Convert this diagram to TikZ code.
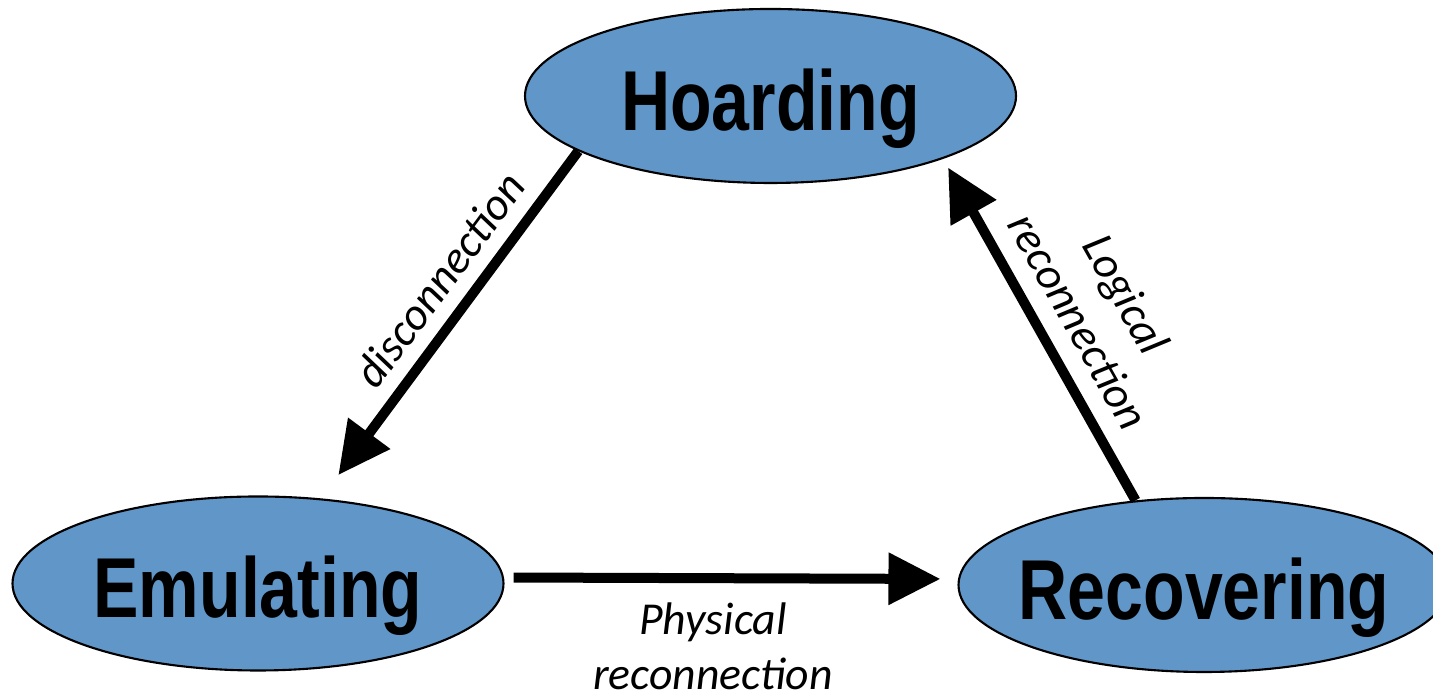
\documentclass[tikz,border=0pt]{standalone}
\usepackage{fontspec}
\usepackage{tikz}
\usetikzlibrary{arrows.meta, shapes.geometric, positioning}
\newfontfamily\statefont{Liberation Sans}[FakeStretch=0.8]
\newfontfamily\edgefont{Carlito}
\definecolor{stateblue}{RGB}{96,150,200}

\begin{document}
\begin{tikzpicture}[
  state/.style={ellipse, draw=black, line width=0.6pt, fill=stateblue,
    minimum width=4.91cm, minimum height=1.74cm, inner xsep=-0.15cm, inner ysep=0pt,
    text height=20.6pt, text depth=1pt,
    font=\statefont\bfseries\fontsize{24.2}{29}\selectfont},
  trans/.style={line width=0.1cm, -{Triangle[length=0.52cm, width=0.5cm]}},
  lbl/.style={inner sep=0pt, align=center,
    font=\edgefont\itshape\fontsize{13}{15.6}\selectfont}
]
\useasboundingbox (0,0) rectangle (14.33,6.97);
\clip (0,0) rectangle (14.33,6.97);

% states
\node[state] (hoard) at (7.705, 6.01) {Hoarding};
\node[state] (emu) at (2.58, 1.135) {Emulating};
\node[state] (rec) at (12.04, 1.12) {Recovering};

% Hoarding -> Emulating
\draw[trans, shorten >=0.29cm] (hoard.196) -- (emu)
  node[lbl, sloped, above=4pt, pos=0.43] (disc) {disconnection};

% Emulating -> Recovering
\draw[trans, shorten <=0.09cm, shorten >=0.17cm] ([yshift=0.06cm]emu.east) -- ([yshift=0.06cm]rec.west)
  node[lbl, below=5.5pt, pos=0.46] (phys) {Physical\\reconnection};

% Recovering -> Hoarding
\draw[trans, shorten >=0.1cm] (rec.129) -- (hoard.-20)
  node[lbl, sloped, above=5pt, pos=0.47] (logi) {Logical\\reconnection};
\end{tikzpicture}
\end{document}
